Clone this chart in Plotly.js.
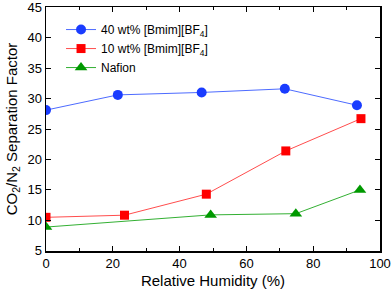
<!DOCTYPE html>
<html><head><meta charset="utf-8">
<script src="https://cdn.plot.ly/plotly-3.0.1.min.js"></script>
<style>html,body{margin:0;padding:0;background:#fff}#chart{width:392px;height:292px}</style>
</head><body><div id="chart"></div>
<script>
const names = ['40 wt% [Bmim][BF<sub>4</sub>]', '10 wt% [Bmim][BF<sub>4</sub>]', 'Nafion'];
const rh40 = [0, 21.5, 46.6, 71.5, 93.1];
const sf40 = [28.1, 30.6, 31.0, 31.6, 28.9];
const rh10 = [0, 23.5, 48.0, 71.8, 94.3];
const sf10 = [10.5, 10.85, 14.3, 21.4, 26.7];
const rhNaf = [0, 49.3, 74.8, 94.0];
const sfNaf = [8.9, 10.9, 11.1, 15.0];
const xTicks = [0, 20, 40, 60, 80, 100];
const yTicks = [5, 10, 15, 20, 25, 30, 35, 40, 45];

const traces = [
  {x: rh40, y: sf40, name: names[0], mode: 'lines+markers', type: 'scatter',
   line: {color: '#4d6bff', width: 1}, marker: {symbol: 'circle', size: 10, color: '#1a3cff'}},
  {x: rh10, y: sf10, name: names[1], mode: 'lines+markers', type: 'scatter',
   line: {color: '#ff4d4d', width: 1}, marker: {symbol: 'square', size: 9, color: '#ff0000'}},
  {x: rhNaf, y: sfNaf, name: names[2], mode: 'lines+markers', type: 'scatter',
   line: {color: '#33b033', width: 1}, marker: {symbol: 'triangle-up', size: 11, color: '#009900'}}
];

const axisFont = {family: 'Liberation Sans, Arial, sans-serif', size: 13, color: '#000'};
const layout = {
  width: 392, height: 292,
  margin: {l: 46, r: 12, t: 7, b: 41},
  paper_bgcolor: '#fff', plot_bgcolor: '#fff',
  font: {family: 'Liberation Sans, Arial, sans-serif', color: '#000'},
  showlegend: true,
  legend: {x: 0.045, y: 0.967, xanchor: 'left', yanchor: 'top', bgcolor: 'rgba(0,0,0,0)',
           font: {family: 'Liberation Sans, Arial, sans-serif', size: 12, color: '#000'},
           tracegroupgap: 0},
  xaxis: {range: [0, 100], tickvals: xTicks, ticktext: xTicks.map(String),
          ticks: 'inside', ticklen: 5, tickwidth: 1, tickcolor: '#000',
          minor: {ticks: 'inside', ticklen: 3, tickwidth: 1, tickcolor: '#000', dtick: 10, showgrid: false},
          showline: true, linecolor: '#000', linewidth: 1.5, mirror: 'ticks',
          showgrid: false, zeroline: false, tickfont: axisFont, ticklabeloverflow: 'allow',
          title: {text: 'Relative Humidity (%)', font: {family: 'Liberation Sans, Arial, sans-serif', size: 15, color: '#000'}, standoff: 5}},
  yaxis: {range: [4.97, 45.03], tickvals: yTicks, ticktext: yTicks.map(String),
          ticks: 'inside', ticklen: 5, tickwidth: 1, tickcolor: '#000',
          showline: true, linecolor: '#000', linewidth: 1.5, mirror: 'ticks',
          showgrid: false, zeroline: false, tickfont: axisFont, ticklabeloverflow: 'allow',
          title: {text: 'CO<sub>2</sub>/N<sub>2</sub> Separation Factor', font: {family: 'Liberation Sans, Arial, sans-serif', size: 15, color: '#000'}, standoff: 6}}
};
Plotly.newPlot('chart', traces, layout, {displayModeBar: false, staticPlot: true});
</script></body></html>
